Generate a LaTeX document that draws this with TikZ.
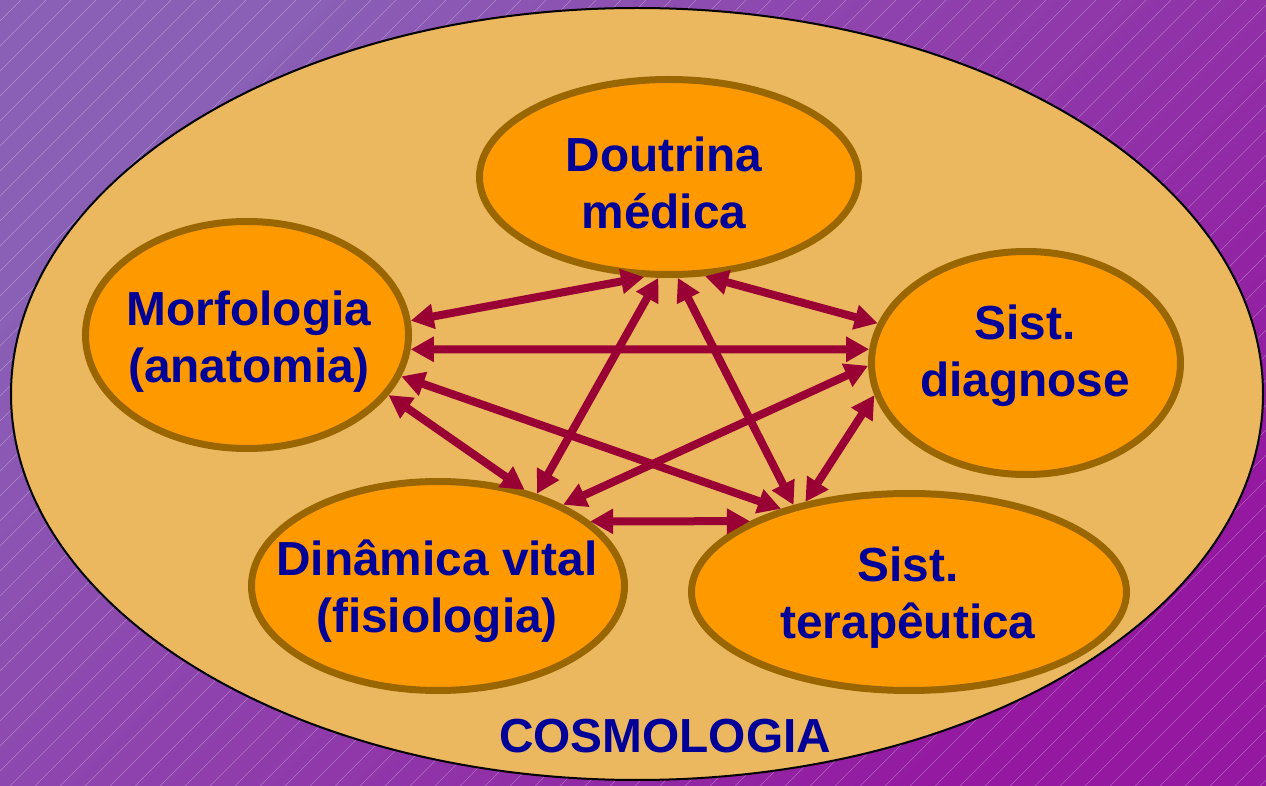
\documentclass[tikz,border=0pt]{standalone}
\usepackage{fontspec}
\setmainfont{Liberation Sans}
\usetikzlibrary{arrows.meta,shapes.geometric}
\definecolor{bgtop}{HTML}{8A60B6}
\definecolor{bgbot}{HTML}{9418A0}
\definecolor{sand}{HTML}{EBB860}
\definecolor{blob}{HTML}{FF9900}
\definecolor{rim}{HTML}{996600}
\definecolor{wine}{HTML}{990033}
\definecolor{ink}{HTML}{000099}
\begin{document}
\begin{tikzpicture}[x=0.5pt, y=-0.5pt, >={Triangle[length=11.5pt,width=12pt]},
    field/.style={ellipse, draw=rim, fill=blob, line width=3.5pt, inner sep=0pt},
    word/.style={text=ink, font=\fontsize{23.9}{28.5}\selectfont\bfseries, align=center},
    link/.style={<->, wine, line width=4pt}]
      \useasboundingbox (0,0) rectangle (1266,786);
      \begin{scope}
        \clip (0,0) rectangle (1266,786);
        \shade[top color=bgtop, bottom color=bgbot, shading angle=45] (0,0) rectangle (1266,786);
        \foreach \i in {-790,-765,...,1266}
          \draw[white, opacity=0.3, line width=0.3pt] (\i,786) -- ++(786,-786);
      \end{scope}

      \draw[fill=sand, line width=1pt] (637,394) ellipse [x radius=313pt, y radius=193pt];

      \node[field, minimum width=189.5pt, minimum height=97.5pt] (doutrina) at (669,177) {};
      \node[field, minimum width=161.5pt, minimum height=113.5pt] (morfo) at (247,335) {};
      \node[field, minimum width=154.5pt, minimum height=111.5pt] (diag) at (1026,363) {};
      \node[field, minimum width=186.5pt, minimum height=104.5pt] (vital) at (438,586) {};
      \node[field, minimum width=217.5pt, minimum height=98.5pt] (terap) at (909,592) {};

      \draw[link] (morfo.5) -- (doutrina.256);
      \draw[link] (morfo.355) -- (diag.175);
      \draw[link] (morfo.345) -- (terap.147);
      \draw[link] (morfo.337) -- (vital.48);
      \draw[link] (doutrina.264) -- (vital.43);
      \draw[link] (doutrina.275) -- (terap.143);
      \draw[link] (doutrina.290) -- (diag.165);
      \draw[link] (diag.181) -- (vital.33);
      \draw[link] (diag.192) -- (terap.139);
      \draw[link] (vital.23) -- (terap.156);

      \node[word] (doutrinaT) at (664,183) {Doutrina\\médica};
      \node[word] (morfoT) at (249,342) {Morfologia\\(anatomia)};
      \node[word] (diagT) at (1025,356) {Sist.\\diagnose};
      \node[word] (vitalT) at (437,591) {Dinâmica vital\\(fisiologia)};
      \node[word] (terapT) at (908,598) {Sist.\\terapêutica};
      \node[word] (cosmo) at (665,736) {COSMOLOGIA};
    \end{tikzpicture}
\end{document}
